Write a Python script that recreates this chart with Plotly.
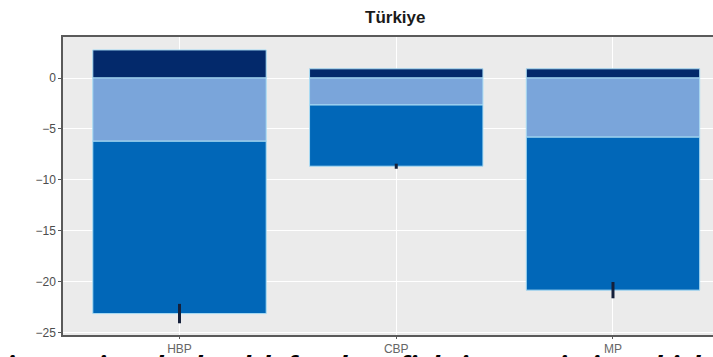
import plotly.graph_objects as go

# Party categories and stacked components (percentage points)
parties = ["HBP", "CBP", "MP"]
positive_part = [2.75, 0.9, 0.9]
first_negative = [-6.2, -2.65, -5.8]
second_negative = [-16.9, -6.0, -15.0]
error_half = [0.95, 0.25, 0.8]

y_ticks = [0, -5, -10, -15, -20, -25]

navy = "#03296b"
light_blue = "#7aa5da"
mid_blue = "#0167b8"
edge = "#a9dcf4"

fig = go.Figure()
for vals, col in [(positive_part, navy), (first_negative, light_blue), (second_negative, mid_blue)]:
    fig.add_trace(go.Bar(
        x=parties, y=vals, width=0.8,
        marker=dict(color=col, line=dict(color=edge, width=1)),
        showlegend=False, hoverinfo="skip",
    ))

# error bars at the bottom of each negative stack
bottoms = [a + b for a, b in zip(first_negative, second_negative)]
fig.add_trace(go.Scatter(
    x=parties, y=bottoms, mode="markers",
    marker=dict(size=1, color="rgba(0,0,0,0)"),
    error_y=dict(type="data", array=error_half, visible=True,
                 color="#15203a", thickness=3, width=0),
    showlegend=False, hoverinfo="skip",
))

W, H = 713, 357
L, R, T, B = 63, 0, 37, 22
plot_w = W - L - R
plot_h = H - T - B

fig.update_layout(
    width=W, height=H,
    margin=dict(l=L, r=R, t=T, b=B),
    barmode="relative",
    paper_bgcolor="white",
    plot_bgcolor="#ebebeb",
    font=dict(family="Liberation Sans, Arial, sans-serif", color="#4d4d4d", size=11),
    xaxis=dict(
        range=[-0.5375, 2.4614],
        showgrid=True, gridcolor="white", gridwidth=1,
        showline=True, linecolor="#5a5a5a", linewidth=1.5, mirror=True,
        ticks="outside", ticklen=2, tickcolor="#5a5a5a",
        tickfont=dict(size=12, color="#666666"),
        zeroline=False,
    ),
    yaxis=dict(
        range=[-25.2, 4.02],
        tickvals=y_ticks, ticktext=[("\u2212" + str(-v)) if v < 0 else str(v) for v in y_ticks],
        showgrid=True, gridcolor="white", gridwidth=1,
        showline=True, linecolor="#5a5a5a", linewidth=1.5,
        ticks="outside", ticklen=3, tickcolor="#5a5a5a",
        tickfont=dict(size=12, color="#4d4d4d"),
        zeroline=False,
    ),
)

fig.add_annotation(
    text="<b>Türkiye</b>", xref="paper", yref="paper",
    x=(395 - L) / plot_w, y=(plot_h + T - 18) / plot_h,
    xanchor="center", yanchor="middle", showarrow=False,
    font=dict(size=17, color="#1a1a1a", family="Liberation Sans, Arial, sans-serif"),
)

# overlapping caption text running below the chart
fig.add_annotation(
    text="<b><i>improving the health for data fighting statistics which</i></b>",
    xref="paper", yref="paper",
    x=(4 - L) / plot_w, y=(plot_h - (344 - T)) / plot_h,
    xanchor="left", yanchor="top", showarrow=False,
    font=dict(size=27.5, color="black", family="Open Sans, sans-serif"),
)

fig.write_html("out.html")
